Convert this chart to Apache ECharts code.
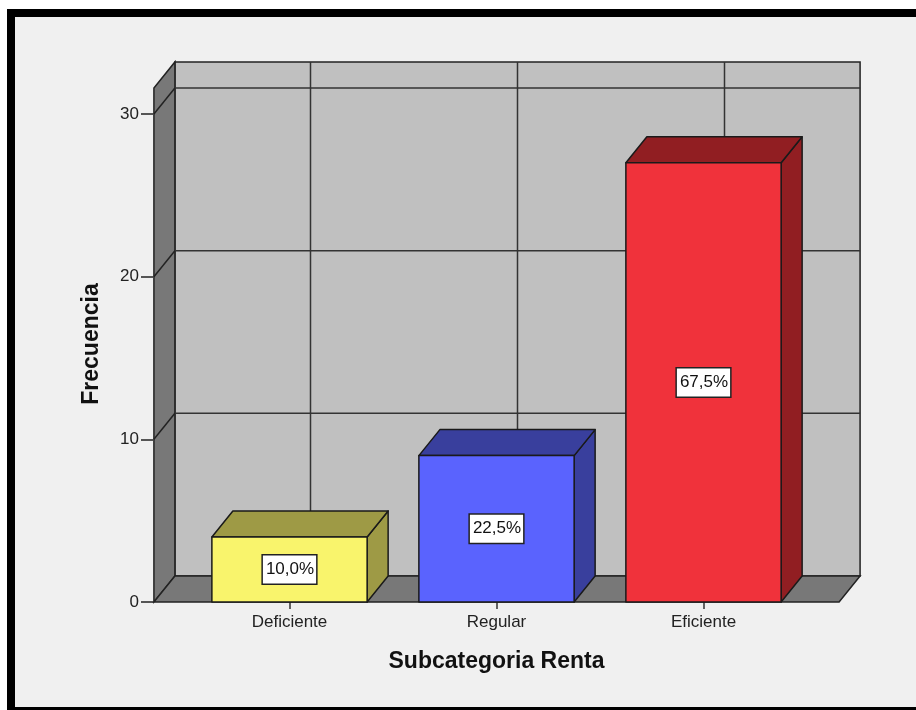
<!DOCTYPE html>
<html>
<head>
<meta charset="utf-8">
<script src="https://cdn.jsdelivr.net/npm/echarts@6/dist/echarts.min.js"></script>
<style>
  html, body { margin: 0; padding: 0; background: #ffffff; }
  #chart { width: 916px; height: 710px; }
</style>
</head>
<body>
<div id="chart"></div>
<script>
// ---- data ----
const categories = ['Deficiente', 'Regular', 'Eficiente'];
const counts = [4, 9, 27];
const percentLabels = ['10,0%', '22,5%', '67,5%'];
const yTickValues = [0, 10, 20, 30];
const wallTopValue = 31.6;

// ---- styles ----
const faceColors = ['#f9f46c', '#5a63fe', '#f0323b'];
const shadeColors = ['#9e9a45', '#393f9d', '#911e22'];
const DX = 21, DY = -26;          // depth offset of the 3D box (pixels)
const BAR_RATIO = 0.75;           // bar width as fraction of category band
const PLANE_EXT = 0.655;          // extent of floor beyond outer category centres (in bands)
const FONT = "'Liberation Sans', Arial, sans-serif";

const chart = echarts.init(document.getElementById('chart'), null, { renderer: 'canvas' });

function renderBackground(params, api) {
  const band = api.size([1, 0])[0];
  const c0 = api.coord([0, 0]);
  const cN = api.coord([categories.length - 1, 0]);
  const L = c0[0] - PLANE_EXT * band;
  const R = cN[0] + PLANE_EXT * band;
  const y0 = c0[1];
  const yT = api.coord([0, wallTopValue])[1];
  const edge = { stroke: '#222', lineWidth: 1.5 };
  const children = [];
  // back wall
  children.push({ type: 'polygon', shape: { points: [[L + DX, y0 + DY], [R + DX, y0 + DY], [R + DX, yT + DY], [L + DX, yT + DY]] },
    style: Object.assign({ fill: '#c0c0c0' }, edge) });
  // left wall
  children.push({ type: 'polygon', shape: { points: [[L, y0], [L, yT], [L + DX, yT + DY], [L + DX, y0 + DY]] },
    style: Object.assign({ fill: '#787878' }, edge) });
  // floor
  children.push({ type: 'polygon', shape: { points: [[L, y0], [R, y0], [R + DX, y0 + DY], [L + DX, y0 + DY]] },
    style: Object.assign({ fill: '#787878' }, edge) });
  // horizontal grid lines
  yTickValues.forEach(function (v) {
    if (v === 0) return;
    const y = api.coord([0, v])[1];
    children.push({ type: 'line', shape: { x1: L + DX, y1: y + DY, x2: R + DX, y2: y + DY }, style: { stroke: '#333', lineWidth: 1.5 } });
    children.push({ type: 'line', shape: { x1: L, y1: y, x2: L + DX, y2: y + DY }, style: { stroke: '#222', lineWidth: 1.5 } });
  });
  // vertical grid lines at category centres (back wall)
  categories.forEach(function (c, i) {
    const x = api.coord([i, 0])[0];
    children.push({ type: 'line', shape: { x1: x + DX, y1: y0 + DY, x2: x + DX, y2: yT + DY }, style: { stroke: '#333', lineWidth: 1.5 } });
  });
  return { type: 'group', children: children };
}

function renderBar(params, api) {
  const i = api.value(0);
  const v = api.value(1);
  const idx = params.dataIndex;
  const band = api.size([1, 0])[0];
  const base = api.coord([i, 0]);
  const top = api.coord([i, v]);
  const w = band * BAR_RATIO;
  const x0 = base[0] - w / 2, x1 = base[0] + w / 2;
  const yb = base[1], yt = top[1];
  const edge = { stroke: '#1a1a1a', lineWidth: 1.5, lineJoin: 'round' };
  return {
    type: 'group',
    children: [
      { type: 'polygon', shape: { points: [[x1, yt], [x1 + DX, yt + DY], [x1 + DX, yb + DY], [x1, yb]] },
        style: Object.assign({ fill: shadeColors[idx] }, edge) },
      { type: 'polygon', shape: { points: [[x0, yt], [x1, yt], [x1 + DX, yt + DY], [x0 + DX, yt + DY]] },
        style: Object.assign({ fill: shadeColors[idx] }, edge) },
      { type: 'rect', shape: { x: x0, y: yt, width: w, height: yb - yt },
        style: Object.assign({ fill: faceColors[idx] }, edge) },
      { type: 'text', x: base[0], y: (yb + yt) / 2,
        style: { text: percentLabels[idx], fill: '#111', font: '17px ' + FONT, align: 'center', verticalAlign: 'middle',
          backgroundColor: '#ffffff', borderColor: '#222', borderWidth: 1.5, padding: [6, 2, 5, 3] } }
    ]
  };
}

const option = {
  backgroundColor: '#ffffff',
  animation: false,
  graphic: [
    { type: 'rect', z: -10, silent: true, shape: { x: 11, y: 13, width: 1000, height: 698 },
      style: { fill: '#f0f0f0', stroke: '#000', lineWidth: 8 } }
  ],
  grid: { left: 186, right: 109, top: 114, bottom: 108 },
  xAxis: {
    type: 'category',
    data: categories,
    boundaryGap: true,
    axisLine: { show: false },
    axisTick: { show: true, alignWithLabel: true, length: 7, lineStyle: { color: '#333', width: 1.5 } },
    axisLabel: { margin: 12, color: '#222', fontSize: 17, fontFamily: FONT },
    splitLine: { show: false },
    name: 'Subcategoria Renta',
    nameLocation: 'middle',
    nameGap: 48,
    nameTextStyle: { color: '#111', fontSize: 23, fontWeight: 'bold', fontFamily: FONT }
  },
  yAxis: {
    type: 'value',
    min: 0,
    max: 30,
    interval: 10,
    offset: 33,
    axisLine: { show: false },
    axisTick: { show: true, length: 12, lineStyle: { color: '#222', width: 1.5 } },
    axisLabel: { margin: 14, color: '#222', fontSize: 17, fontFamily: FONT },
    splitLine: { show: false },
    name: 'Frecuencia',
    nameLocation: 'middle',
    nameRotate: 90,
    nameGap: 50,
    nameTextStyle: { color: '#111', fontSize: 23, fontWeight: 'bold', fontFamily: FONT, padding: [0, 0, 0, 28] }
  },
  series: [
    { type: 'custom', z: 1, silent: true, clip: false, renderItem: renderBackground, data: [[0, 0]] },
    { type: 'custom', z: 2, silent: true, clip: false, renderItem: renderBar,
      data: counts.map(function (c, i) { return [i, c]; }) }
  ]
};

chart.setOption(option);
</script>
</body>
</html>
